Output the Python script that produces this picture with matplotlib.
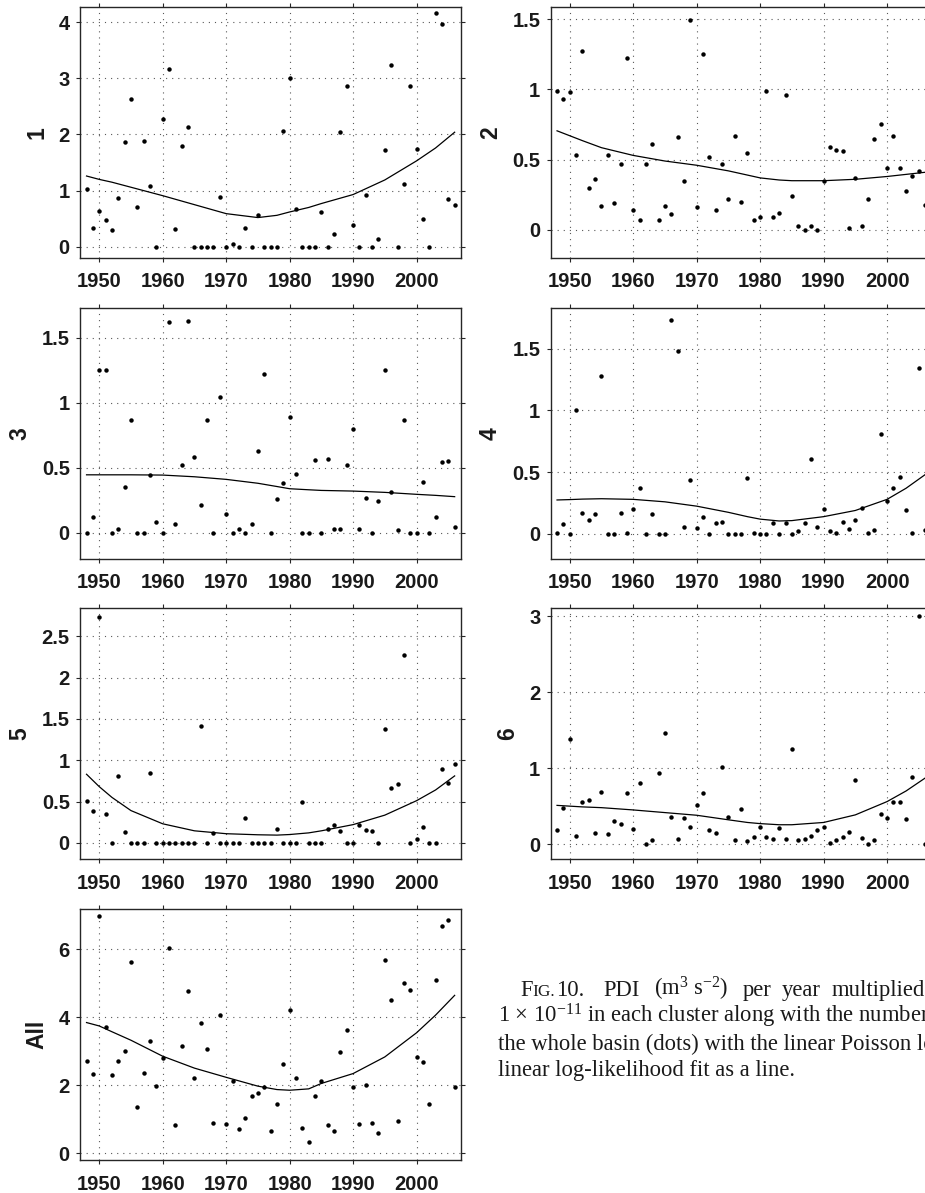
import matplotlib
matplotlib.use("Agg")
import matplotlib.pyplot as plt
from matplotlib.ticker import FuncFormatter

plt.rcParams['font.family'] = 'Liberation Sans'
plt.rcParams['mathtext.fontset'] = 'custom'
plt.rcParams['mathtext.rm'] = 'Liberation Serif'
plt.rcParams['mathtext.it'] = 'Liberation Serif:italic'

years = list(range(1948, 2007))

pdi_1 = [1.03, 0.34, 0.63, 0.48, 0.29, 0.87, 1.86, 2.63, 0.71, 1.88,
         1.09, 0.00, 2.27, 3.17, 0.31, 1.80, 2.14, 0.00, 0.00, 0.00,
         0.00, 0.88, 0.00, 0.05, 0.00, 0.33, 0.00, 0.56, 0.00, 0.00,
         0.00, 2.06, 3.01, 0.67, 0.00, 0.00, 0.00, 0.62, 0.00, 0.23,
         2.05, 2.87, 0.39, 0.00, 0.93, 0.00, 0.13, 1.73, 3.23, 0.00,
         1.12, 2.87, 1.74, 0.50, 0.00, 4.17, 3.97, 0.85, 0.74]
pdi_2 = [0.99, 0.93, 0.98, 0.53, 1.27, 0.30, 0.36, 0.17, 0.53, 0.19,
         0.47, 1.22, 0.14, 0.07, 0.47, 0.61, 0.07, 0.17, 0.11, 0.66,
         0.35, 1.49, 0.16, 1.25, 0.52, 0.14, 0.47, 0.22, 0.67, 0.20,
         0.55, 0.07, 0.09, 0.99, 0.09, 0.12, 0.96, 0.24, 0.03, 0.00,
         0.03, 0.00, 0.35, 0.59, 0.57, 0.56, 0.01, 0.37, 0.03, 0.22,
         0.65, 0.75, 0.44, 0.67, 0.44, 0.28, 0.38, 0.42, 0.18]
pdi_3 = [0.00, 0.12, 1.25, 1.25, 0.00, 0.03, 0.35, 0.87, 0.00, 0.00,
         0.44, 0.08, 0.00, 1.62, 0.07, 0.52, 1.63, 0.58, 0.21, 0.87,
         0.00, 1.04, 0.14, 0.00, 0.03, 0.00, 0.07, 0.63, 1.22, 0.00,
         0.26, 0.38, 0.89, 0.45, 0.00, 0.00, 0.56, 0.00, 0.57, 0.03,
         0.03, 0.52, 0.80, 0.03, 0.27, 0.00, 0.24, 1.25, 0.31, 0.02,
         0.87, 0.00, 0.00, 0.39, 0.00, 0.12, 0.54, 0.55, 0.04]
pdi_4 = [0.01, 0.08, 0.00, 1.00, 0.17, 0.11, 0.16, 1.28, 0.00, 0.00,
         0.17, 0.01, 0.20, 0.37, 0.00, 0.16, 0.00, 0.00, 1.73, 1.48,
         0.06, 0.44, 0.05, 0.14, 0.00, 0.09, 0.10, 0.00, 0.00, 0.00,
         0.45, 0.01, 0.00, 0.00, 0.09, 0.00, 0.09, 0.00, 0.02, 0.09,
         0.61, 0.06, 0.20, 0.02, 0.01, 0.10, 0.04, 0.11, 0.21, 0.01,
         0.03, 0.81, 0.27, 0.37, 0.46, 0.19, 0.01, 1.34, 0.03]
pdi_5 = [0.51, 0.39, 2.74, 0.35, 0.00, 0.81, 0.13, 0.00, 0.00, 0.00,
         0.85, 0.00, 0.00, 0.00, 0.00, 0.00, 0.00, 0.00, 1.42, 0.00,
         0.12, 0.00, 0.00, 0.00, 0.00, 0.30, 0.00, 0.00, 0.00, 0.00,
         0.17, 0.00, 0.00, 0.00, 0.50, 0.00, 0.00, 0.00, 0.17, 0.22,
         0.14, 0.00, 0.00, 0.21, 0.15, 0.14, 0.00, 1.38, 0.66, 0.71,
         2.28, 0.00, 0.05, 0.19, 0.00, 0.00, 0.89, 0.72, 0.96]
pdi_6 = [0.18, 0.48, 1.39, 0.11, 0.56, 0.58, 0.14, 0.69, 0.13, 0.31,
         0.27, 0.67, 0.20, 0.81, 0.00, 0.06, 0.94, 1.46, 0.36, 0.07,
         0.34, 0.23, 0.52, 0.67, 0.18, 0.14, 1.01, 0.36, 0.05, 0.46,
         0.04, 0.09, 0.22, 0.09, 0.07, 0.21, 0.07, 1.25, 0.06, 0.07,
         0.11, 0.18, 0.22, 0.01, 0.06, 0.09, 0.16, 0.84, 0.08, 0.00,
         0.06, 0.39, 0.34, 0.55, 0.55, 0.33, 0.89, 3.00, 0.00]
pdi_all = [2.73, 2.35, 6.99, 3.73, 2.30, 2.71, 3.01, 5.64, 1.36, 2.38,
           3.30, 1.99, 2.81, 6.04, 0.85, 3.16, 4.78, 2.23, 3.83, 3.08,
           0.89, 4.08, 0.87, 2.12, 0.73, 1.03, 1.68, 1.77, 1.95, 0.66,
           1.47, 2.63, 4.21, 2.21, 0.75, 0.33, 1.70, 2.13, 0.85, 0.65,
           2.97, 3.63, 1.96, 0.87, 2.00, 0.89, 0.60, 5.69, 4.51, 0.97,
           5.01, 4.80, 2.84, 2.68, 1.46, 5.09, 6.69, 6.88, 1.96]

# fitted curve
fit_years = [1948, 1950, 1952, 1955, 1960, 1965, 1970, 1975, 1978,
             1980, 1983, 1985, 1990, 1995, 2000, 2003, 2006]
fit_1 = [1.26, 1.20, 1.15, 1.06, 0.91, 0.75, 0.59, 0.52, 0.56,
         0.62, 0.70, 0.77, 0.93, 1.19, 1.53, 1.76, 2.04]
fit_2 = [0.705, 0.67, 0.635, 0.585, 0.53, 0.49, 0.46, 0.42, 0.39,
         0.37, 0.355, 0.35, 0.35, 0.36, 0.38, 0.395, 0.41]
fit_3 = [0.445, 0.445, 0.445, 0.445, 0.443, 0.43, 0.41, 0.38, 0.355,
         0.338, 0.33, 0.325, 0.32, 0.31, 0.295, 0.287, 0.277]
fit_4 = [0.275, 0.278, 0.282, 0.285, 0.28, 0.26, 0.225, 0.175, 0.14,
         0.12, 0.105, 0.108, 0.14, 0.19, 0.28, 0.37, 0.48]
fit_5 = [0.83, 0.68, 0.55, 0.39, 0.23, 0.145, 0.11, 0.097, 0.093,
         0.10, 0.12, 0.145, 0.22, 0.335, 0.51, 0.64, 0.81]
fit_6 = [0.51, 0.50, 0.49, 0.48, 0.45, 0.415, 0.38, 0.32, 0.285,
         0.27, 0.255, 0.255, 0.285, 0.385, 0.56, 0.70, 0.87]
fit_all = [3.85, 3.75, 3.58, 3.33, 2.86, 2.51, 2.24, 1.98, 1.88,
           1.86, 1.90, 2.06, 2.35, 2.84, 3.55, 4.07, 4.65]

panels = [
    # label, dots, fit, yticks, ytop, column, row
    ('1', pdi_1, fit_1, [0, 1, 2, 3, 4], 4.27, 0, 0),
    ('2', pdi_2, fit_2, [0, 0.5, 1, 1.5], 1.586, 1, 0),
    ('3', pdi_3, fit_3, [0, 0.5, 1, 1.5], 1.73, 0, 1),
    ('4', pdi_4, fit_4, [0, 0.5, 1, 1.5], 1.83, 1, 1),
    ('5', pdi_5, fit_5, [0, 0.5, 1, 1.5, 2, 2.5], 2.84, 0, 2),
    ('6', pdi_6, fit_6, [0, 1, 2, 3], 3.105, 1, 2),
    ('All', pdi_all, fit_all, [0, 2, 4, 6], 7.18, 0, 3),
]

W, H = 925, 1193
fig = plt.figure(figsize=(W / 100, H / 100), dpi=100)

col_left = [80, 550.5]
row_top = [7, 307.7, 608.3, 909.3]
ax_w, ax_h = 381, 251

for label, dots, fit, yticks, ytop, col, row in panels:
    left = col_left[col]
    top = row_top[row]
    ax = fig.add_axes([left / W, 1 - (top + ax_h) / H, ax_w / W, ax_h / H])
    ax.grid(True, color='0.35', linestyle=(0, (1, 4.5)), linewidth=0.8)
    ax.set_axisbelow(True)
    ax.plot(fit_years, fit, color='black', linewidth=0.9)
    ax.plot(years, dots, 'o', color='black', markersize=3.2, markeredgewidth=0)
    ax.set_xlim(1946.97, 2007.0)
    ax.set_ylim(-0.2, ytop)
    ax.set_xticks([1950, 1960, 1970, 1980, 1990, 2000])
    ax.set_yticks(yticks)
    ax.yaxis.set_major_formatter(FuncFormatter(lambda v, p: '%g' % v))
    ax.tick_params(direction='out', length=2.8, width=0.8, labelsize=14.5,
                   top=True, right=True, color='0.15', labelcolor='0.1')
    ax.tick_params(axis='x', pad=7.5)
    ax.tick_params(axis='y', pad=4.5)
    for t in ax.get_xticklabels() + ax.get_yticklabels():
        t.set_fontweight('bold')
    for sp in ax.spines.values():
        sp.set_linewidth(1.0)
        sp.set_color('0.15')
    offset = 60 if any(t % 1 for t in yticks) else 43
    ax.text(-offset / ax_w, 0.5, label, transform=ax.transAxes, rotation=90,
            ha='center', va='center', fontsize=16.5, fontweight='bold',
            color='0.1')

# caption: justified first line, small caps in "Fig."
renderer = fig.canvas.get_renderer()
serif = 'Liberation Serif'
cap_size = 16.3


def put(x, y, s, size=cap_size):
    t = fig.text(x / W, 1 - y / H, s, fontsize=size, family=serif,
                 va='baseline', ha='left', color='0.1')
    return x + t.get_window_extent(renderer).width


nx = put(520, 996, 'F')
put(nx, 996, 'IG.', size=12.5)
put(556, 996, '10.')
put(603, 996, 'PDI')
put(654, 996, '(m$^{3}$ s$^{-2}$)')
put(743, 996, 'per')
put(782, 996, 'year')
put(832, 996, 'multiplied')
put(498, 1023, '1 × 10$^{-11}$ in each cluster along with the number')
put(498, 1050, 'the whole basin (dots) with the linear Poisson log-')
put(498, 1076, 'linear log-likelihood fit as a line.')

fig.savefig('out.png', dpi=100)
